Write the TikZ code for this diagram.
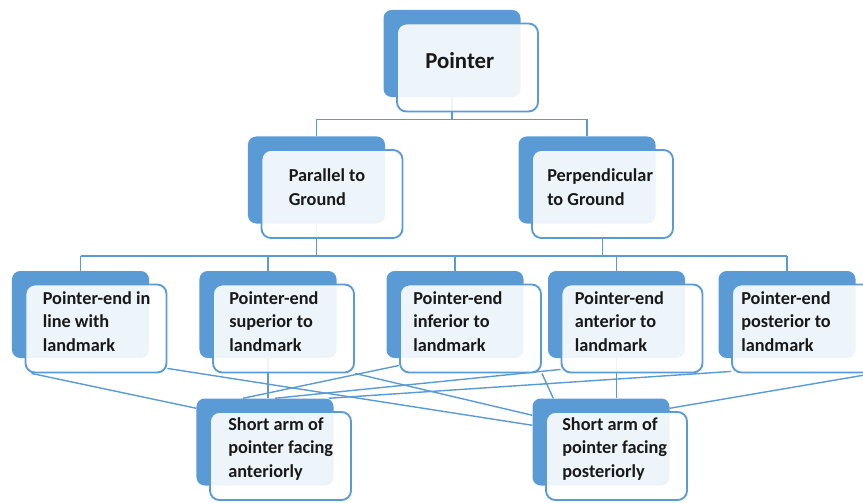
\documentclass[tikz,border=0pt]{standalone}
\usepackage{fontspec}
\setmainfont{Carlito}
\usetikzlibrary{calc}
\usetikzlibrary{positioning}
\usetikzlibrary{backgrounds}
\definecolor{boxblue}{HTML}{5B9BD5}
% two stacked boxes: name, centre of the front box, text indent, text
\newcommand{\layeredbox}[4]{%
  \node (#1_back) [backbox] at ($(#2)+(-15.5,-14)$) {};
  \node (#1) [frontbox] at (#2) {};
  \node (#1_text) [boxtext] at ($(#1.west)+(#3,-7)$) {#4};
}

\begin{document}
\begin{tikzpicture}[x=0.03cm, y=-0.03cm,
  backbox/.style={
    % The shape:
    rectangle, rounded corners=7pt,
    % The size:
    minimum width=4.11cm, minimum height=2.61cm,
    % The filling:
    fill=boxblue, draw=none},
  frontbox/.style={
    % The shape:
    rectangle, rounded corners=8pt,
    % The size:
    minimum width=4.23cm, minimum height=2.64cm,
    % The border:
    line width=1.6pt, draw=boxblue,
    % The filling:
    fill=white, fill opacity=0.9},
  boxtext/.style={
    anchor=west, inner sep=0pt,
    align=left, % required if you use new line
    font=\fontsize{15.6}{20}\selectfont\bfseries, text=black!90},
  link/.style={line width=1.2pt, draw=boxblue}]

  \useasboundingbox (0,0) rectangle (863,503);

  \layeredbox{pointer}{467.5,67.5}{29}{\fontsize{19.5}{22}\selectfont Pointer}

  \layeredbox{parallel}{332,194}{28}{Parallel to\\ Ground}
  \layeredbox{perpendicular}{602.5,194}{16}{Perpendicular\\ to Ground}

  \layeredbox{inline}{96,328.5}{18}{Pointer-end in\\ line with\\ landmark}
  \layeredbox{superior}{283.5,328.5}{17}{Pointer-end\\ superior to\\ landmark}
  \layeredbox{inferior}{470.5,328.5}{14}{Pointer-end\\ inferior to\\ landmark}
  \layeredbox{anterior}{632,328.5}{14}{Pointer-end\\ anterior to\\ landmark}
  \layeredbox{posterior}{802.5,328.5}{10}{Pointer-end\\ posterior to\\ landmark}

  \layeredbox{shortant}{280.5,456}{19}{Short arm of\\ pointer facing\\ anteriorly}
  \layeredbox{shortpost}{616.5,456}{17}{Short arm of\\ pointer facing\\ posteriorly}

  \begin{scope}[on background layer]
    % tree
    \draw[link] (pointer_back.south) -- ++(0,22) -| (parallel_back.north);
    \draw[link] (pointer_back.south) -- ++(0,22) -| (perpendicular_back.north);

    \coordinate (lower_bar) at (0,256);
    \draw[link] (inline_back.north |- lower_bar) -- (posterior_back.north |- lower_bar);
    \draw[link] (parallel_back.south) -- (parallel_back.south |- lower_bar);
    \draw[link] (perpendicular.south) -- (perpendicular.south |- lower_bar);
    \foreach \n in {inline,superior,inferior,anterior,posterior}
      \draw[link] (\n_back.north) -- (\n_back.north |- lower_bar);

    % crossing links
    \draw[link] ($(inline.south west)+(7,0)$) -- ($(shortant_back.north west)+(0,10)$);
    \draw[link] ($(inline.south east)+(0,-5)$) -- ($(shortpost_back.north west)+(0,27)$);
    \draw[link] (superior_back.south) -- (superior_back.south |- shortant_back.north);
    \draw[link] (superior.south east) -- ($(shortpost_back.north west)+(0,17)$);
    \draw[link] ($(inferior.south west)+(0,-8)$) -- ($(shortant_back.north)+(-22,0)$);
    \draw[link] (inferior.south east) -- ($(shortpost_back.north west)+(21,0)$);
    \draw[link] ($(anterior.south west)+(0,-4)$) -- ($(shortant_back.north)+(10,0)$);
    \draw[link] (anterior_back.south) -- (anterior_back.south |- shortpost_back.north);
    \draw[link] ($(posterior.south west)+(0,-2)$) -- ($(shortant_back.north east)+(-5,0)$);
    \draw[link] ($(shortpost_back.north east)+(0,10)$) -- (posterior.south east);
  \end{scope}
\end{tikzpicture}
\end{document}
